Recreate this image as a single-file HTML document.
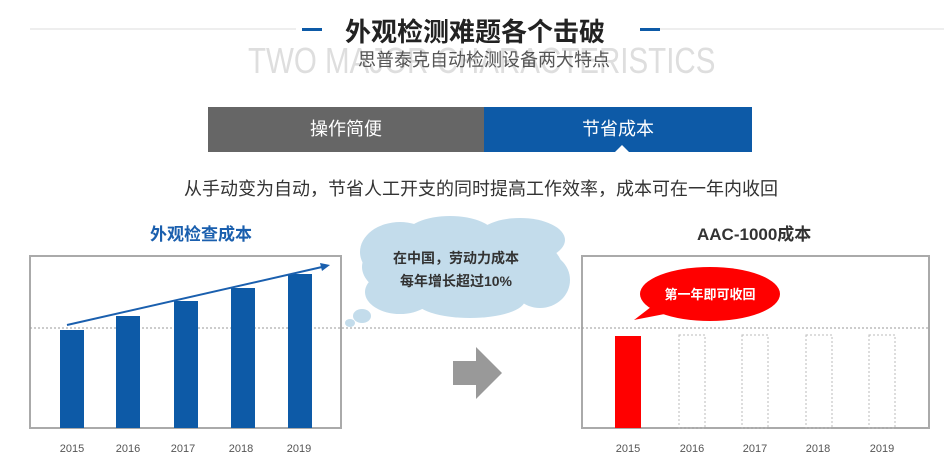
<!DOCTYPE html>
<html><head><meta charset="utf-8"><style>
body{margin:0;width:944px;height:467px;background:#fff;overflow:hidden;position:relative;font-family:"Liberation Sans","Noto Sans CJK SC",sans-serif}
.a{position:absolute;white-space:nowrap}
</style></head><body>
<div class="a" style="left:30px;top:28px;width:914px;height:2px;background:#eee"></div>
<div class="a" style="left:296px;top:22px;width:358px;height:16px;background:#fff"></div>
<div class="a" style="left:302px;top:28px;width:20px;height:3px;background:#0d5aa7"></div>
<div class="a" style="left:640px;top:28px;width:20px;height:3px;background:#0d5aa7"></div>
<div class="a" style="left:248px;top:40px;font-size:36px;color:#dedede;transform:scaleX(0.82);transform-origin:0 0">TWO MAJOR CHARACTERISTICS</div>
<div class="a" style="left:345px;top:12px;font-size:26px;font-weight:bold;color:#222">外观检测难题各个击破</div>
<div class="a" style="left:358px;top:46px;font-size:18px;color:#555">思普泰克自动检测设备两大特点</div>
<div class="a" style="left:208px;top:107px;width:276px;height:45px;background:#666;color:#fff;font-size:18px;text-align:center;line-height:45px">操作简便</div>
<div class="a" style="left:484px;top:107px;width:268px;height:45px;background:#0d5aa7;color:#fff;font-size:18px;text-align:center;line-height:45px">节省成本</div>
<div class="a" style="left:615px;top:145px;width:0;height:0;border-left:7px solid transparent;border-right:7px solid transparent;border-bottom:7px solid #fff"></div>
<div class="a" style="left:184px;top:175px;font-size:18px;color:#333">从手动变为自动，节省人工开支的同时提高工作效率，成本可在一年内收回</div>
<div class="a" style="left:150px;top:220px;font-size:17px;font-weight:bold;color:#1a5fae">外观检查成本</div>
<div class="a" style="left:697px;top:220px;font-size:17px;font-weight:bold;color:#333">AAC-1000成本</div>
<svg class="a" style="left:0;top:0" width="944" height="467">
<rect x="30" y="256" width="311" height="172" fill="none" stroke="#aaa" stroke-width="2"/>
<rect x="582" y="256" width="347" height="172" fill="none" stroke="#aaa" stroke-width="2"/>
<line x1="30" y1="328" x2="930" y2="328" stroke="#999" stroke-dasharray="2,2"/>
<g fill="#0d5aa7">
<rect x="60" y="330" width="24" height="98"/><rect x="116" y="316" width="24" height="112"/>
<rect x="174" y="301" width="24" height="127"/><rect x="231" y="288" width="24" height="140"/>
<rect x="288" y="274" width="24" height="154"/></g>
<line x1="67" y1="325" x2="322" y2="267" stroke="#1a5fae" stroke-width="2"/>
<polygon points="330,265 320,263 322,271" fill="#1a5fae"/>
<g fill="#c3dceb">
<ellipse cx="462" cy="267" rx="100" ry="42"/><ellipse cx="400" cy="252" rx="40" ry="30"/>
<ellipse cx="450" cy="236" rx="45" ry="20"/><ellipse cx="520" cy="240" rx="45" ry="22"/>
<ellipse cx="540" cy="280" rx="30" ry="28"/><ellipse cx="400" cy="292" rx="35" ry="22"/>
<ellipse cx="470" cy="300" rx="55" ry="18"/>
<ellipse cx="362" cy="316" rx="9" ry="7"/><ellipse cx="350" cy="323" rx="5" ry="4"/></g>
<rect x="615" y="336" width="26" height="92" fill="#f00"/>
<g fill="none" stroke="#bbb" stroke-dasharray="2,2">
<rect x="679" y="335" width="26" height="93"/><rect x="742" y="335" width="26" height="93"/>
<rect x="806" y="335" width="26" height="93"/><rect x="869" y="335" width="26" height="93"/></g>
<ellipse cx="710" cy="294" rx="70" ry="27" fill="#f00"/>
<polygon points="634,320 660,300 675,312" fill="#f00"/>
<polygon points="453,361 476,361 476,347 502,373 476,399 476,385 453,385" fill="#999"/>
<g font-size="11" fill="#555" text-anchor="middle" font-family="Liberation Sans,sans-serif">
<text x="72" y="452">2015</text><text x="128" y="452">2016</text><text x="183" y="452">2017</text><text x="241" y="452">2018</text><text x="299" y="452">2019</text>
<text x="628" y="452">2015</text><text x="692" y="452">2016</text><text x="755" y="452">2017</text><text x="818" y="452">2018</text><text x="882" y="452">2019</text></g>
<g font-size="14" font-weight="bold" fill="#333" text-anchor="middle">
<text x="456" y="263">在中国，劳动力成本</text><text x="456" y="286">每年增长超过10%</text></g>
<text x="710" y="299" font-size="13" font-weight="bold" fill="#fff" text-anchor="middle">第一年即可收回</text>
</svg>
</body></html>
